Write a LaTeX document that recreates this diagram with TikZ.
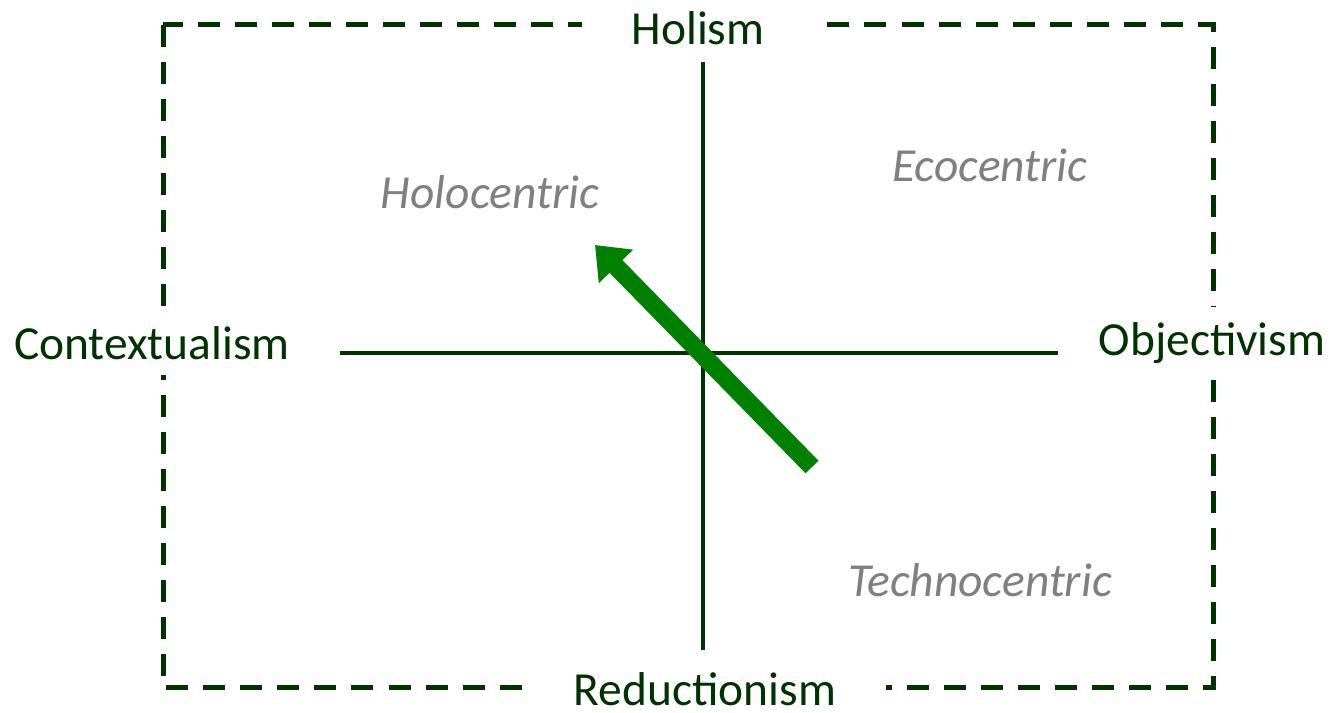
\documentclass[tikz,border=0pt]{standalone}
\usepackage{fontspec}
\setmainfont{Carlito}
\usetikzlibrary{arrows.meta}
\definecolor{axisgreen}{HTML}{003300}
\definecolor{arrowgreen}{HTML}{008000}
\tikzset{
  pole/.style={font=\fontsize{13.5}{15}\selectfont, text=axisgreen, fill=white, inner ysep=0.45cm},
  quadrant/.style={font=\fontsize{13.5}{15}\selectfont\itshape, text=gray},
}
\begin{document}
\begin{tikzpicture}[x=0.01cm, y=-0.01cm]
    \useasboundingbox (0,0) rectangle (1333,713);

    % Frame
    \draw[axisgreen, line width=0.05cm, dash pattern=on 0.22cm off 0.15cm] (163,25) rectangle (1213,688);

    % Poles
    \node[pole, inner xsep=0.5cm] (holism) at (698,28) {Holism};
    \node[pole, inner xsep=0.05cm, inner ysep=0.15cm] (context) at (152,343) {Contextualism};
    \node[pole, inner xsep=0.05cm, inner ysep=0.15cm] (object) at (1212,343) {Objectivism};
    \node[pole, inner xsep=0.5cm, inner ysep=0.2cm] (reduct) at (705,689) {Reductionism};

    % Axes
    \coordinate (top) at (703,62);
    \coordinate (bottom) at (703,650);
    \coordinate (left) at (340,353);
    \coordinate (right) at (1058,353);
    \draw[axisgreen, line width=0.045cm] (top) -- (bottom);
    \draw[axisgreen, line width=0.045cm] (left) -- (right);

    % Quadrants
    \node[quadrant] (holo) at (490,192) {Holocentric};
    \node[quadrant] (eco) at (990,165) {Ecocentric};
    \node[quadrant] (techno) at (980,580) {Technocentric};

    % Shift
    \coordinate (from) at (812,467);
    \coordinate (to) at (595,245);
    \draw[arrowgreen, line width=0.18cm, -{Triangle[width=0.46cm, length=0.3cm]}] (from) -- (to);
\end{tikzpicture}
\end{document}
